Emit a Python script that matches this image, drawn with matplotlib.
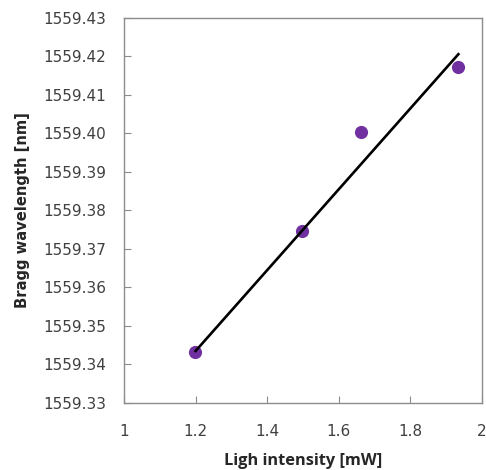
import matplotlib
matplotlib.use("Agg")
import matplotlib.pyplot as plt
from matplotlib.ticker import FormatStrFormatter

intensity = [1.198, 1.496, 1.662, 1.933]
wavelength = [1559.3433, 1559.3748, 1559.4004, 1559.4173]
trend_x = [1.20, 1.934]
trend_y = [1559.3435, 1559.4206]
xticks = [1, 1.2, 1.4, 1.6, 1.8, 2]
yticks = [1559.33, 1559.34, 1559.35, 1559.36, 1559.37, 1559.38, 1559.39,
          1559.40, 1559.41, 1559.42, 1559.43]

fig = plt.figure(figsize=(4.86, 4.70), dpi=100)
ax = fig.add_axes([0.2551, 0.1426, 0.7367, 0.8191])

ax.scatter(intensity, wavelength, s=90, color="#7030A0", zorder=3, linewidths=0)
ax.plot(trend_x, trend_y, color="black", lw=1.9, zorder=4)

ax.set_xlim(1, 2)
ax.set_ylim(1559.33, 1559.43)
ax.set_xticks(xticks)
ax.set_xticklabels(["1", "1.2", "1.4", "1.6", "1.8", "2"])
ax.set_yticks(yticks)
ax.yaxis.set_major_formatter(FormatStrFormatter("%.2f"))

for s in ax.spines.values():
    s.set_color("#8c8c8c")
    s.set_linewidth(1.0)
ax.tick_params(direction="in", length=5, color="#8c8c8c", labelsize=11,
               labelcolor="#404040")
ax.tick_params(axis="y", pad=13)
ax.tick_params(axis="x", pad=15)

ax.set_xlabel("Ligh intensity [mW]", fontsize=11.8, fontweight="bold",
              family="Open Sans", color="#262626", labelpad=10)
ax.set_ylabel("Bragg wavelength [nm]", fontsize=10.6, fontweight="bold",
              color="#262626", labelpad=9)

fig.savefig("out.png", dpi=100)
